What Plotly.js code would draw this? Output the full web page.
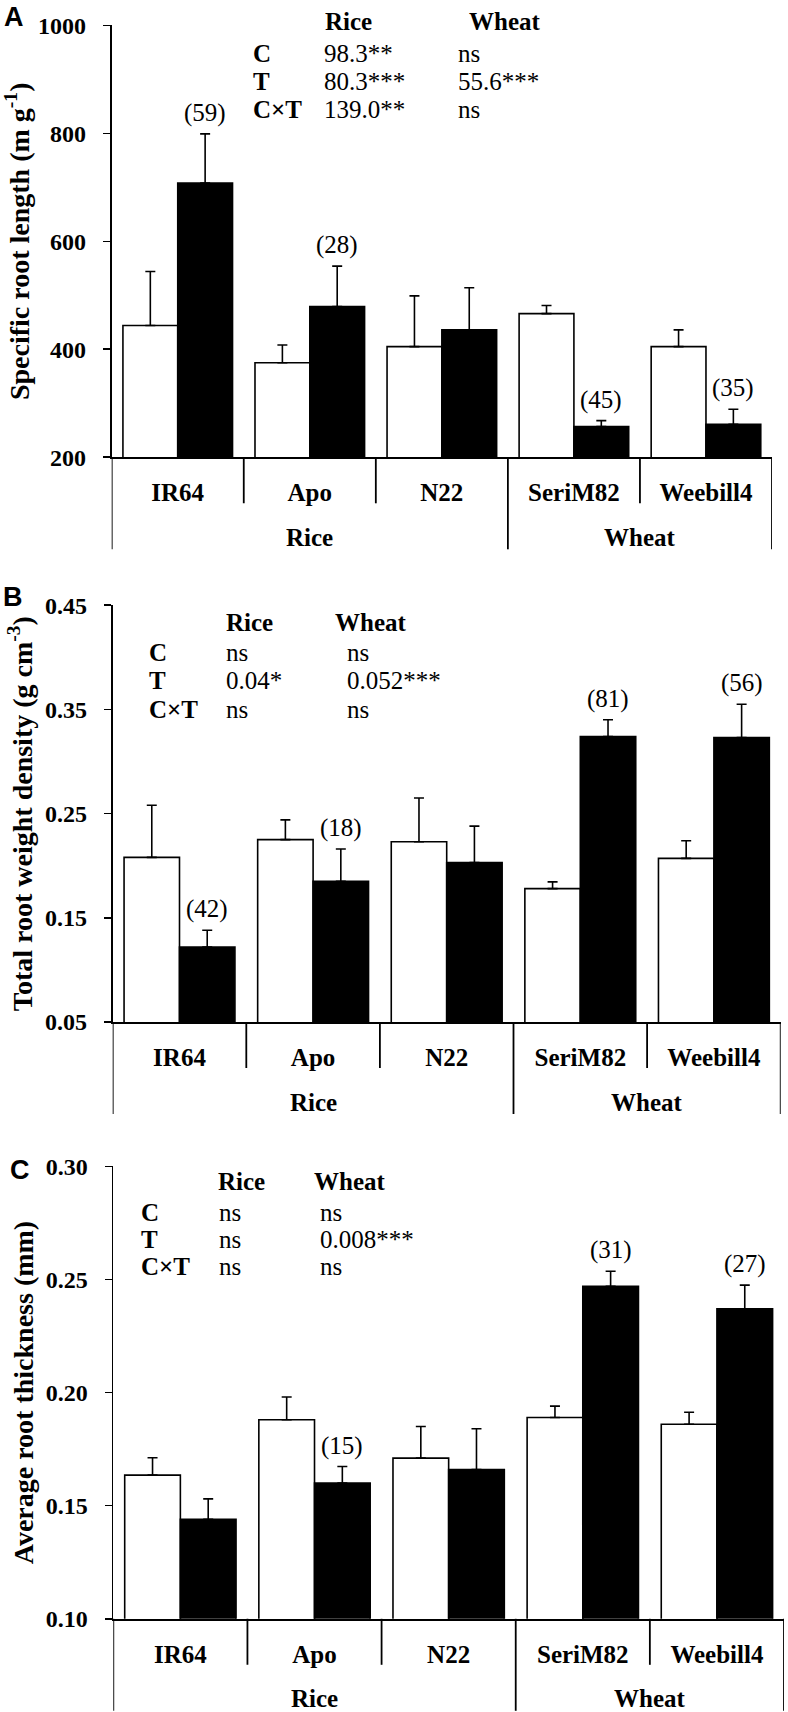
<!DOCTYPE html>
<html><head><meta charset="utf-8">
<script src="https://cdn.plot.ly/plotly-3.0.1.min.js"></script>
<style>html,body{margin:0;padding:0;background:#fff}</style>
</head><body><div id="chart" style="width:788px;height:1712px"></div>
<script>
// ---------- data ----------
const cultivars = ['IR64', 'Apo', 'N22', 'SeriM82', 'Weebill4'];
const species = ['Rice', 'Rice', 'Rice', 'Wheat', 'Wheat'];
const statRowLabels = ['C', 'T', 'C×T'];
const statHeaders = ['Rice', 'Wheat'];

// Panel A: specific root length (m g-1)
const srlControl = [444, 375, 405, 466, 405];
const srlControlErr = [100, 33, 94, 15, 31];
const srlTreat = [708, 479, 436, 257, 261];
const srlTreatErr = [91, 75, 78, 11, 28];
const srlChange = ['(59)', '(28)', '', '(45)', '(35)'];
const srlStatsRice = ['98.3**', '80.3***', '139.0**'];
const srlStatsWheat = ['ns', '55.6***', 'ns'];
const srlTicks = [200, 400, 600, 800, 1000];

// Panel B: total root weight density (g cm-3)
const trwdControl = [0.208, 0.225, 0.223, 0.178, 0.207];
const trwdControlErr = [0.050, 0.019, 0.042, 0.0065, 0.017];
const trwdTreat = [0.122, 0.185, 0.203, 0.324, 0.323];
const trwdTreatErr = [0.016, 0.031, 0.035, 0.016, 0.032];
const trwdChange = ['(42)', '(18)', '', '(81)', '(56)'];
const trwdStatsRice = ['ns', '0.04*', 'ns'];
const trwdStatsWheat = ['ns', '0.052***', 'ns'];
const trwdTicks = [0.05, 0.15, 0.25, 0.35, 0.45];

// Panel C: average root thickness (mm)
const artControl = [0.1635, 0.188, 0.171, 0.189, 0.186];
const artControlErr = [0.0077, 0.010, 0.014, 0.005, 0.0053];
const artTreat = [0.144, 0.160, 0.166, 0.247, 0.237];
const artTreatErr = [0.009, 0.0073, 0.018, 0.0066, 0.0105];
const artChange = ['', '(15)', '', '(31)', '(27)'];
const artStatsRice = ['ns', 'ns', 'ns'];
const artStatsWheat = ['ns', '0.008***', 'ns'];
const artTicks = [0.10, 0.15, 0.20, 0.25, 0.30];

// ---------- layout helpers ----------
const W = 788, H = 1712;
const px = x => x / W;
const py = y => 1 - y / H;
const SERIF = 'Liberation Serif, Times New Roman, serif';
const SANS = 'Liberation Sans, Arial, sans-serif';
const BARGAP = 0.17;

const panels = [
  {letter: 'A', letterPos: [14, 17], xpx: [111.7, 772], ypx: [25.3, 457.3], range: [200, 1000],
   ticks: srlTicks, fmt: v => String(v), title: 'Specific root length (m g<sup>-1</sup>)', standoff: 0,
   ctrl: srlControl, ctrlErr: srlControlErr, trt: srlTreat, trtErr: srlTreatErr, change: srlChange,
   rice: srlStatsRice, wheat: srlStatsWheat,
   stat: {hy: 22, hx: [323, 467], rows: [53, 82, 110], lx: 251, vx: [322, 456]}},
  {letter: 'B', letterPos: [13, 597], xpx: [112.7, 780.7], ypx: [605.2, 1022], range: [0.05, 0.45],
   ticks: trwdTicks, fmt: v => v.toFixed(2), title: 'Total root weight density (g cm<sup>-3</sup>)', standoff: 4,
   ctrl: trwdControl, ctrlErr: trwdControlErr, trt: trwdTreat, trtErr: trwdTreatErr, change: trwdChange,
   rice: trwdStatsRice, wheat: trwdStatsWheat,
   stat: {hy: 622, hx: [224, 333], rows: [652, 680, 710], lx: 147, vx: [224, 345]}},
  {letter: 'C', letterPos: [20, 1170], xpx: [113.3, 784], ypx: [1166.3, 1618.8], range: [0.10, 0.30],
   ticks: artTicks, fmt: v => v.toFixed(2), title: 'Average root thickness (mm)', standoff: 4,
   ctrl: artControl, ctrlErr: artControlErr, trt: artTreat, trtErr: artTreatErr, change: artChange,
   rice: artStatsRice, wheat: artStatsWheat,
   stat: {hy: 1181, hx: [216, 312], rows: [1212, 1239, 1266], lx: 139, vx: [217, 318]}}
];

const data = [];
const layout = {
  width: W, height: H, margin: {l: 0, r: 0, t: 0, b: 0},
  paper_bgcolor: '#fff', plot_bgcolor: '#fff',
  barmode: 'group', bargap: BARGAP, bargroupgap: 0,
  showlegend: false, annotations: [], shapes: [],
  font: {family: SERIF, color: '#000'}
};

panels.forEach((p, k) => {
  const sfx = k === 0 ? '' : String(k + 1);
  const xa = 'x' + sfx, ya = 'y' + sfx;
  const errBar = (arr) => ({type: 'data', array: arr, arrayminus: arr.map(() => 0), symmetric: false,
                            visible: true, color: '#000', thickness: 1.6, width: 5});
  data.push({type: 'bar', x: cultivars, y: p.ctrl, xaxis: xa, yaxis: ya, name: 'Control',
             marker: {color: '#fff', line: {color: '#000', width: 1.6}}, error_y: errBar(p.ctrlErr)});
  data.push({type: 'bar', x: cultivars, y: p.trt, xaxis: xa, yaxis: ya, name: 'Treatment',
             marker: {color: '#000', line: {color: '#000', width: 1.6}}, error_y: errBar(p.trtErr)});

  layout['xaxis' + sfx] = {
    domain: [px(p.xpx[0]), px(p.xpx[1])], anchor: ya, type: 'category',
    categoryarray: cultivars, range: [-0.5, cultivars.length - 0.5],
    showline: true, linecolor: '#000', linewidth: 1.8, ticks: '', showgrid: false, zeroline: false,
    tickfont: {family: SERIF, size: 25, weight: 'bold', color: '#000'}, ticklabelstandoff: 12,
    fixedrange: true
  };
  layout['yaxis' + sfx] = {
    domain: [py(p.ypx[1]), py(p.ypx[0])], anchor: xa, range: p.range,
    tickmode: 'array', tickvals: p.ticks, ticktext: p.ticks.map(p.fmt),
    showline: true, linecolor: '#000', linewidth: 1.8, ticks: 'outside', ticklen: 7, tickwidth: 1.6,
    tickcolor: '#000', showgrid: false, zeroline: false, ticklabelstandoff: 12,
    tickfont: {family: SERIF, size: 24, weight: 'bold', color: '#000'},
    title: {text: p.title, font: {family: SERIF, size: 28, weight: 'bold', color: '#000'}, standoff: p.standoff},
    fixedrange: true
  };

  // category dividers below the axis: long where the species changes
  const axisY = p.ypx[1];
  for (let i = 0; i <= cultivars.length; i++) {
    const outer = i === 0 || i === cultivars.length || species[i] !== species[i - 1];
    layout.shapes.push({type: 'line', xref: xa, yref: 'paper', x0: i - 0.5, x1: i - 0.5,
      y0: py(axisY), y1: py(axisY + (outer ? 92 : 46)), line: {color: '#000', width: 1.8}});
  }
  // species labels
  const groups = [...new Set(species)];
  groups.forEach(g => {
    const idx = species.map((s, i) => s === g ? i : -1).filter(i => i >= 0);
    const cx = (idx[0] + idx[idx.length - 1]) / 2;
    layout.annotations.push({xref: xa, yref: 'paper', x: cx, y: py(axisY + 80), text: g,
      showarrow: false, xanchor: 'center', yanchor: 'middle',
      font: {family: SERIF, size: 25, weight: 'bold', color: '#000'}});
  });
  // percentage change labels above treatment bars
  const off = (1 - BARGAP) / 4;
  p.change.forEach((t, i) => {
    if (!t) return;
    layout.annotations.push({xref: xa, yref: ya, x: i + off, y: p.trt[i] + p.trtErr[i], text: t,
      showarrow: false, xanchor: 'center', yanchor: 'bottom', yshift: 5,
      font: {family: SERIF, size: 25, color: '#000'}});
  });
  // statistics table
  const s = p.stat;
  statHeaders.forEach((h, j) => layout.annotations.push({xref: 'paper', yref: 'paper',
    x: px(s.hx[j]), y: py(s.hy), text: h, showarrow: false, xanchor: 'left', yanchor: 'middle',
    font: {family: SERIF, size: 25, weight: 'bold', color: '#000'}}));
  statRowLabels.forEach((r, j) => {
    layout.annotations.push({xref: 'paper', yref: 'paper', x: px(s.lx), y: py(s.rows[j]), text: r,
      showarrow: false, xanchor: 'left', yanchor: 'middle',
      font: {family: SERIF, size: 25, weight: 'bold', color: '#000'}});
    [p.rice[j], p.wheat[j]].forEach((v, c) => layout.annotations.push({xref: 'paper', yref: 'paper',
      x: px(s.vx[c]), y: py(s.rows[j]), text: v, showarrow: false, xanchor: 'left', yanchor: 'middle',
      font: {family: SERIF, size: 25, color: '#000'}}));
  });
  // panel letter
  layout.annotations.push({xref: 'paper', yref: 'paper', x: px(p.letterPos[0]), y: py(p.letterPos[1]),
    text: p.letter, showarrow: false, xanchor: 'center', yanchor: 'middle',
    font: {family: SANS, size: 27, weight: 'bold', color: '#000'}});
});

Plotly.newPlot('chart', data, layout, {staticPlot: true, displayModeBar: false});
</script>
</body></html>
